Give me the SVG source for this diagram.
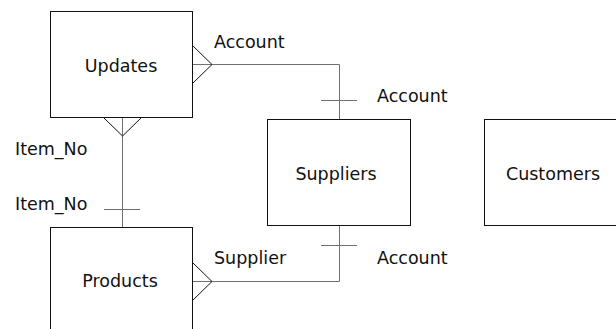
<svg xmlns="http://www.w3.org/2000/svg" width="616" height="329" viewBox="0 0 616 329">
<style>
.box{fill:#fff;stroke:#111;stroke-width:1}
.lbl{font-family:"DejaVu Sans",sans-serif;font-size:17.5px;fill:#111}
.c{text-anchor:middle}
.ln{fill:none;stroke:#707070;stroke-width:1}
.cf{fill:none;stroke:#111;stroke-width:1}
</style>
<rect width="616" height="329" fill="#fff"/>
<g id="updates">
<rect class="box" x="50.5" y="11.5" width="142" height="106"/>
<text class="lbl c" x="121" y="72">Updates</text>
</g>
<g id="suppliers">
<rect class="box" x="267.5" y="119.5" width="143" height="106"/>
<text class="lbl c" x="336" y="180">Suppliers</text>
</g>
<g id="customers">
<rect class="box" x="484.5" y="119.5" width="150" height="106"/>
<text class="lbl c" x="553" y="180">Customers</text>
</g>
<g id="products">
<rect class="box" x="50.5" y="227.5" width="142" height="120"/>
<text class="lbl c" x="120" y="287">Products</text>
</g>
<g id="connectors">
<path class="ln" d="M193 64.5H339.5V119"/>
<path class="cf" d="M193 46L212 64.5L193 83"/>
<path class="ln" d="M321 100.5H357"/>
<path class="ln" d="M122.5 118V227"/>
<path class="cf" d="M104 118L122.5 136L141 118"/>
<path class="ln" d="M104 209.5H140"/>
<path class="ln" d="M193 281.5H339.5V226"/>
<path class="cf" d="M193 263L212 281.5L193 300"/>
<path class="ln" d="M321 245.5H357"/>
<text class="lbl" x="214" y="48">Account</text>
<text class="lbl" x="377" y="102">Account</text>
<text class="lbl" x="15" y="155">Item_No</text>
<text class="lbl" x="15" y="210">Item_No</text>
<text class="lbl" x="214" y="264">Supplier</text>
<text class="lbl" x="377" y="264">Account</text>
</g>
</svg>
